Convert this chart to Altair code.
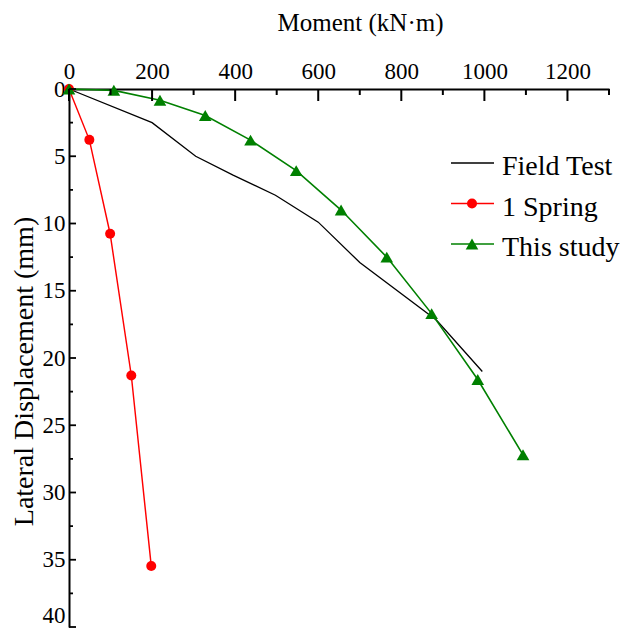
import altair as alt
import pandas as pd

# ---- data ----
series = ["Field Test", "1 Spring", "This study"]
colors = ["#000000", "#ff0000", "#008000"]

x_field = [0, 200, 305, 395, 497, 600, 700, 885, 995]
y_field = [0, 2.5, 5.0, 6.4, 7.9, 9.9, 12.9, 17.2, 21.0]

x_spring = [0, 49, 99, 150, 198]
y_spring = [0, 3.78, 10.76, 21.3, 35.46]

x_study = [0, 108, 219, 328, 437, 547, 655, 765, 873, 984, 1093]
y_study = [0, 0.1, 0.84, 1.97, 3.8, 6.07, 9.0, 12.5, 16.7, 21.6, 27.2]

x_major = [0, 200, 400, 600, 800, 1000, 1200]
x_minor = [100, 300, 500, 700, 900, 1100, 1300]
y_major = [0, 5, 10, 15, 20, 25, 30, 35, 40]
y_minor = [2.5, 7.5, 12.5, 17.5, 22.5, 27.5, 32.5, 37.5]

FONT = "Liberation Serif"

rows = []
for name, xs, ys in [("Field Test", x_field, y_field),
                     ("1 Spring", x_spring, y_spring),
                     ("This study", x_study, y_study)]:
    for i, (a, b) in enumerate(zip(xs, ys)):
        rows.append({"series": name, "x": a, "y": b, "i": i})
df = pd.DataFrame(rows)

color_scale = alt.Scale(domain=series, range=colors)
xscale = alt.Scale(domain=[0, 1300], nice=False, zero=False)
yscale = alt.Scale(domain=[0, 40], reverse=True, nice=False, zero=False)

x_axis = alt.Axis(
    orient="top", values=x_major, format="d", ticks=False, tickSize=0, grid=False,
    labelPadding=11, labelBaseline="alphabetic", labelFlush=False,
    labelFontSize=23, labelFont=FONT, labelColor="black",
    title="Moment (kN·m)", titleFont=FONT, titleFontSize=25,
    titleFontWeight="normal", titleColor="black",
    titleX=291, titleY=-59, titleBaseline="alphabetic", titleAlign="center",
    domainColor="black", domainWidth=2,
)
y_axis = alt.Axis(
    orient="left", values=y_major, format="d", ticks=False, tickSize=0, grid=False,
    labelPadding=4,
    labelBaseline={"condition": {"test": "datum.value >= 40", "value": "bottom"}, "value": "middle"},
    labelFlush=False,
    labelFontSize=23, labelFont=FONT, labelColor="black",
    title="Lateral Displacement (mm)", titleFont=FONT, titleFontSize=28,
    titleFontWeight="normal", titleColor="black",
    titleX=-37, titleY=282, titleBaseline="alphabetic", titleAlign="center",
    domainColor="black", domainWidth=2,
)

base = alt.Chart(df)
lines = base.mark_line().encode(
    x=alt.X("x:Q", scale=xscale, axis=x_axis),
    y=alt.Y("y:Q", scale=yscale, axis=y_axis),
    color=alt.Color("series:N", scale=color_scale, legend=None),
    strokeWidth=alt.StrokeWidth("series:N", scale=alt.Scale(domain=series, range=[1.3, 1.6, 1.6]), legend=None),
    order="i:Q",
    detail="series:N",
)

marker_series = ["1 Spring", "This study"]
shape_scale = alt.Scale(domain=marker_series, range=["circle", "triangle-up"])
size_scale = alt.Scale(domain=marker_series, range=[100, 160])

pts = base.transform_filter(
    alt.FieldOneOfPredicate(field="series", oneOf=marker_series)
).mark_point(filled=True, opacity=1).encode(
    x=alt.X("x:Q", scale=xscale, axis=x_axis),
    y=alt.Y("y:Q", scale=yscale, axis=y_axis),
    color=alt.Color("series:N", scale=color_scale, legend=None),
    shape=alt.Shape("series:N", scale=shape_scale, legend=None),
    size=alt.Size("series:N", scale=size_scale, legend=None),
)

# inward ticks
xmaj = alt.Chart(pd.DataFrame({"x": x_major})).mark_rule(color="black", strokeWidth=2).encode(
    x=alt.X("x:Q", scale=xscale, axis=x_axis), y=alt.value(0), y2=alt.value(12))
xmin = alt.Chart(pd.DataFrame({"x": x_minor})).mark_rule(color="black", strokeWidth=2).encode(
    x=alt.X("x:Q", scale=xscale, axis=x_axis), y=alt.value(0), y2=alt.value(6))
ymaj = alt.Chart(pd.DataFrame({"y": y_major})).mark_rule(color="black", strokeWidth=1.8).encode(
    y=alt.Y("y:Q", scale=yscale, axis=y_axis), x=alt.value(0), x2=alt.value(7))
ymin = alt.Chart(pd.DataFrame({"y": y_minor})).mark_rule(color="black", strokeWidth=1.8).encode(
    y=alt.Y("y:Q", scale=yscale, axis=y_axis), x=alt.value(0), x2=alt.value(4))

main = alt.layer(lines, pts, xmaj, xmin, ymaj, ymin)

# legend
leg_df = pd.DataFrame({"series": series})
leg_y = alt.Y("series:N", scale=alt.Scale(type="point", domain=series, range=[74, 155], padding=0), axis=None)
leg_rule = alt.Chart(leg_df).mark_rule(strokeWidth=1.6).encode(
    x=alt.value(382), x2=alt.value(425), y=leg_y,
    color=alt.Color("series:N", scale=color_scale, legend=None))
leg_pts = alt.Chart(leg_df).transform_filter(
    alt.FieldOneOfPredicate(field="series", oneOf=marker_series)
).mark_point(filled=True, opacity=1).encode(
    x=alt.value(403), y=leg_y,
    color=alt.Color("series:N", scale=color_scale, legend=None),
    shape=alt.Shape("series:N", scale=shape_scale, legend=None),
    size=alt.Size("series:N", scale=size_scale, legend=None),
)
leg_text = alt.Chart(leg_df).mark_text(
    align="left", baseline="alphabetic", dy=12, font=FONT, fontSize=28, color="black"
).encode(x=alt.value(433), y=leg_y, text="series:N")

chart = alt.layer(main, leg_rule, leg_pts, leg_text).resolve_scale(
    y="independent"
).properties(
    width=540, height=538,
    autosize=alt.AutoSizeParams(type="none"),
    padding={"left": 61, "top": 81, "right": 16, "bottom": 1},
).configure_view(stroke=None)

chart.save("out.html", embed_options={"renderer": "svg", "actions": False})
